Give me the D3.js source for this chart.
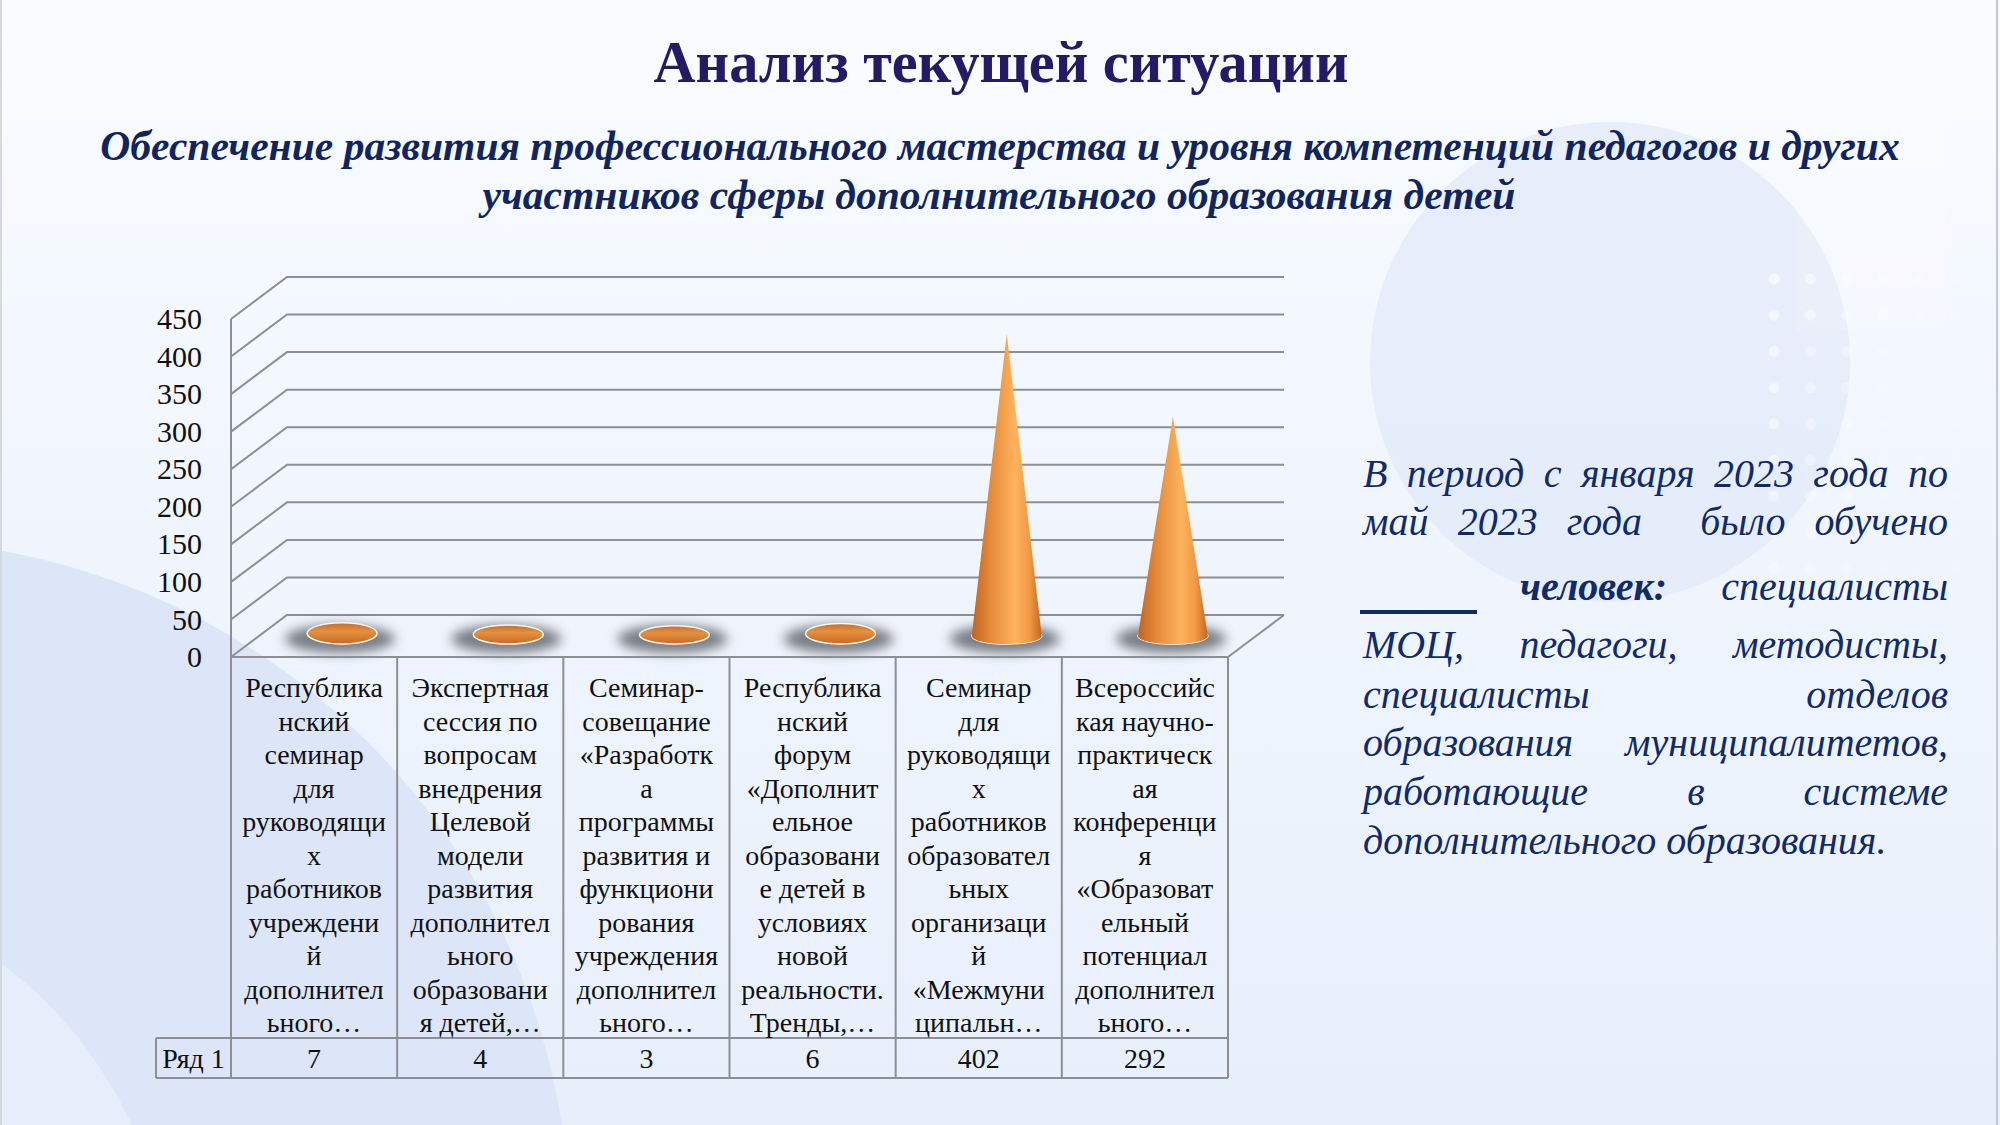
<!DOCTYPE html>
<html>
<head>
<meta charset="utf-8">
<script src="https://cdn.jsdelivr.net/npm/d3@7"></script>
<style>
  html, body { margin: 0; padding: 0; overflow: hidden; background: #f4f8fe; }
  svg { display: block; }
</style>
</head>
<body>
<svg id="slide" width="2000" height="1125"></svg>
<script>
// --- data ---
const categories = [
  ["Республика", "нский", "семинар", "для", "руководящи", "х", "работников", "учреждени", "й", "дополнител", "ьного…"],
  ["Экспертная", "сессия по", "вопросам", "внедрения", "Целевой", "модели", "развития", "дополнител", "ьного", "образовани", "я детей,…"],
  ["Семинар-", "совещание", "«Разработк", "а", "программы", "развития и", "функциони", "рования", "учреждения", "дополнител", "ьного…"],
  ["Республика", "нский", "форум", "«Дополнит", "ельное", "образовани", "е детей в", "условиях", "новой", "реальности.", "Тренды,…"],
  ["Семинар", "для", "руководящи", "х", "работников", "образовател", "ьных", "организаци", "й", "«Межмуни", "ципальн…"],
  ["Всероссийс", "кая научно-", "практическ", "ая", "конференци", "я", "«Образоват", "ельный", "потенциал", "дополнител", "ьного…"]
];
const values = [7, 4, 3, 6, 402, 292];
const seriesName = "Ряд 1";
const yTicks = [0, 50, 100, 150, 200, 250, 300, 350, 400, 450];

const titleText = "Анализ текущей ситуации";
const subtitleLines = [
  "Обеспечение развития профессионального мастерства и уровня компетенций педагогов и других",
  "участников сферы дополнительного образования детей"
];
const noteLines = [
  "В период с января 2023 года по",
  "май 2023 года  было обучено",
  "человек: специалисты",
  "МОЦ, педагоги, методисты,",
  "специалисты отделов",
  "образования муниципалитетов,",
  "работающие в системе",
  "дополнительного образования."
];

// --- setup ---
const W = 2000, H = 1125;
const serif = "'Liberation Serif', 'Times New Roman', serif";
const svg = d3.select("#slide");
const defs = svg.append("defs");

// background
const bg = defs.append("linearGradient").attr("id", "bg").attr("x1", 0).attr("y1", 0).attr("x2", 0).attr("y2", 1);
bg.append("stop").attr("offset", "0%").attr("stop-color", "#f9fcff");
bg.append("stop").attr("offset", "60%").attr("stop-color", "#eef4fd");
bg.append("stop").attr("offset", "100%").attr("stop-color", "#e7effb");
svg.append("rect").attr("width", W).attr("height", H).attr("fill", "url(#bg)");

svg.append("circle").attr("cx", 1610).attr("cy", 362).attr("r", 240).attr("fill", "#e4ebf9").attr("opacity", 0.85);
svg.append("circle").attr("cx", -120).attr("cy", 1230).attr("r", 690).attr("fill", "#dce6f8");
svg.append("circle").attr("cx", -250).attr("cy", 1300).attr("r", 420).attr("fill", "#e6eefb");
svg.append("rect").attr("x", 1796).attr("y", 31).attr("width", 150).attr("height", 300).attr("fill", "#ffffff").attr("opacity", 0.12);

// dotted decoration
for (let c = 0; c < 6; c++) {
  for (let r = 0; r < 9; r++) {
    svg.append("circle")
      .attr("cx", 1774 + c * 36.3).attr("cy", 279 + r * 36.2).attr("r", 5.5)
      .attr("fill", "#ffffff").attr("opacity", Math.max(0.1, 0.6 - c * 0.1 - r * 0.03));
  }
}
svg.append("line").attr("x1", W - 3).attr("x2", W - 3).attr("y1", 0).attr("y2", H)
  .attr("stroke", "#c4c8d0").attr("stroke-width", 2);
svg.append("line").attr("x1", 1).attr("x2", 1).attr("y1", 0).attr("y2", H)
  .attr("stroke", "#d4d8e0").attr("stroke-width", 2);

// --- title ---
function fitWidth(sel, target) {
  const w = sel.node().getComputedTextLength();
  const fs = parseFloat(sel.attr("font-size"));
  sel.attr("font-size", fs * target / w);
  return fs * target / w;
}
const title = svg.append("text")
  .attr("x", 1001).attr("y", 82).attr("text-anchor", "middle")
  .attr("font-family", serif).attr("font-weight", "bold").attr("font-size", 56)
  .attr("fill", "#241a66").text(titleText);
fitWidth(title, 695);

const sub1 = svg.append("text")
  .attr("x", 1000).attr("y", 160).attr("text-anchor", "middle")
  .attr("font-family", serif).attr("font-weight", "bold").attr("font-style", "italic")
  .attr("font-size", 38).attr("fill", "#10255f").text(subtitleLines[0]);
const subSize = fitWidth(sub1, 1800);
svg.append("text")
  .attr("x", 999).attr("y", 209).attr("text-anchor", "middle")
  .attr("font-family", serif).attr("font-weight", "bold").attr("font-style", "italic")
  .attr("font-size", subSize).attr("fill", "#10255f").text(subtitleLines[1]);

// --- chart ---
const depth = { dx: 56, dy: -42 };
const y = d3.scaleLinear().domain([0, 450]).range([657, 319]);
const x = d3.scaleBand().domain(d3.range(categories.length)).range([231, 1228]);
const x0 = x.range()[0], x1 = x.range()[1];
const grid = svg.append("g").attr("fill", "none").attr("stroke", "#8d8f93").attr("stroke-width", 2);

yTicks.forEach(t => {
  grid.append("path").attr("d",
    `M${x0},${y(t)} L${x0 + depth.dx},${y(t) + depth.dy} L${x1 + depth.dx},${y(t) + depth.dy}`);
});
grid.append("path").attr("d", `M${x0},${y(450)} L${x0},${y(0)}`);
grid.append("path").attr("d", `M${x1},${y(0)} L${x1 + depth.dx},${y(0) + depth.dy}`);

const yAxis = svg.append("g").attr("transform", "translate(202,0)")
  .call(d3.axisLeft(y).tickValues(yTicks).tickSize(0).tickPadding(0));
yAxis.select(".domain").remove();
yAxis.selectAll("text").attr("font-family", serif).attr("font-size", 30).attr("fill", "#111");

// cones
const cg = defs.append("linearGradient").attr("id", "cone").attr("x1", 0).attr("x2", 1).attr("y1", 0).attr("y2", 0);
[["0%", "#c0631f"], ["25%", "#e38837"], ["62%", "#ffb35c"], ["82%", "#f19a45"], ["100%", "#c4661f"]]
  .forEach(s => cg.append("stop").attr("offset", s[0]).attr("stop-color", s[1]));
const eg = defs.append("linearGradient").attr("id", "capg").attr("x1", 0).attr("x2", 0).attr("y1", 0).attr("y2", 1);
[["0%", "#c86d2b"], ["40%", "#e5913f"], ["100%", "#c56a26"]]
  .forEach(s => eg.append("stop").attr("offset", s[0]).attr("stop-color", s[1]));
defs.append("filter").attr("id", "blur").attr("x", "-50%").attr("y", "-100%").attr("width", "200%").attr("height", "300%")
  .append("feGaussianBlur").attr("stdDeviation", 6);

const rx = 35, ry = 8;
const cones = svg.append("g");
values.forEach((v, i) => {
  const cx = x(i) + x.bandwidth() / 2 + depth.dx / 2;
  const by = y(0) + depth.dy / 2;
  const ay = y(v) + depth.dy / 2;
  const flat = by - ay <= ry;
  const g = cones.append("g");
  g.append("ellipse").attr("cx", cx - 2).attr("cy", by + 3).attr("rx", rx + 20).attr("ry", ry + 6)
    .attr("fill", "#50545c").attr("opacity", 0.75).attr("filter", "url(#blur)");
  g.append("ellipse").attr("cx", cx).attr("cy", flat ? by - (by - ay) / 2 : by)
    .attr("rx", rx).attr("ry", flat ? ry + (by - ay) / 2 : ry)
    .attr("fill", flat ? "url(#capg)" : "url(#cone)")
    .attr("stroke", "#fff6ea").attr("stroke-width", 1.5);
  if (!flat) {
    g.append("path")
      .attr("d", `M${cx - rx},${by} L${cx},${ay} L${cx + rx},${by} A${rx},${ry} 0 0 1 ${cx - rx},${by} Z`)
      .attr("fill", "url(#cone)");
  }
});

// data table
const tbl = svg.append("g").attr("fill", "none").attr("stroke", "#8d8f93").attr("stroke-width", 2);
const tTop = y(0), rowTop = 1038, rowBot = 1078, headLeft = 156;
d3.range(categories.length + 1).forEach(i => {
  const xx = x0 + i * x.bandwidth();
  tbl.append("line").attr("x1", xx).attr("x2", xx).attr("y1", tTop).attr("y2", rowBot);
});
tbl.append("line").attr("x1", x0).attr("x2", x1).attr("y1", tTop).attr("y2", tTop);
tbl.append("line").attr("x1", headLeft).attr("x2", x1).attr("y1", rowTop).attr("y2", rowTop);
tbl.append("line").attr("x1", headLeft).attr("x2", x1).attr("y1", rowBot).attr("y2", rowBot);
tbl.append("line").attr("x1", headLeft).attr("x2", headLeft).attr("y1", rowTop).attr("y2", rowBot);

const labels = svg.append("g").attr("font-family", serif).attr("font-size", 28).attr("fill", "#111").attr("text-anchor", "middle");
categories.forEach((lines, i) => {
  const t = labels.append("text").attr("x", x(i) + x.bandwidth() / 2).attr("y", 697);
  lines.forEach((ln, k) => {
    t.append("tspan").attr("x", x(i) + x.bandwidth() / 2).attr("y", 697 + k * 33.5).text(ln);
  });
  labels.append("text").attr("x", x(i) + x.bandwidth() / 2).attr("y", 1068).text(values[i]);
});
labels.append("text").attr("x", (headLeft + x0) / 2).attr("y", 1068).text(seriesName);

// --- note on the right ---
const note = svg.append("g").attr("font-family", serif).attr("font-style", "italic")
  .attr("font-size", 40).attr("fill", "#112a68");
const nLeft = 1363, nRight = 1948;
const baselines = [487, 535, 600, 658, 708, 756, 805, 854];

function justify(words, yb, left, right, boldFirst) {
  const els = words.map((w, k) => note.append("text").attr("y", yb)
    .attr("font-weight", boldFirst && k === 0 ? "bold" : null).text(w));
  const widths = els.map(e => (e.text() ? e.node().getComputedTextLength() : 0));
  const gap = (right - left - d3.sum(widths)) / (words.length - 1);
  let cx = left;
  els.forEach((e, k) => { e.attr("x", cx); cx += widths[k] + gap; });
}
noteLines.forEach((line, k) => {
  const yb = baselines[k];
  if (k === 2) {
    note.append("rect").attr("x", 1360).attr("y", 610).attr("width", 117).attr("height", 4).attr("fill", "#112a68");
    justify(line.split(" "), yb, 1520, nRight, true);
  } else if (k === noteLines.length - 1) {
    note.append("text").attr("x", nLeft).attr("y", yb).text(line);
  } else {
    justify(line.split(" "), yb, nLeft, nRight, false);
  }
});
</script>
</body>
</html>
